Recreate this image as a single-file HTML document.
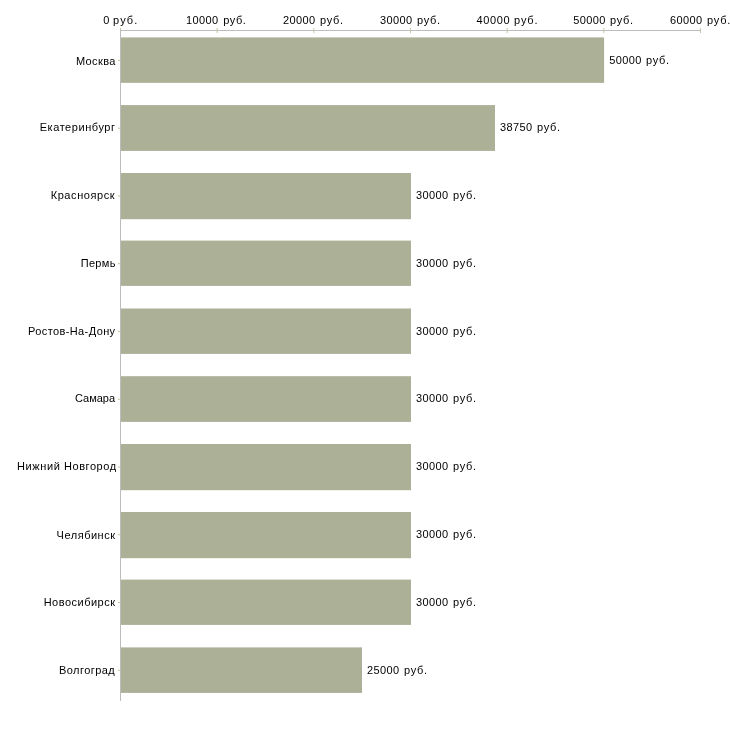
<!DOCTYPE html><html><head><meta charset="utf-8"><style>html,body{margin:0;padding:0;background:#fff;}svg{display:block;will-change:transform}text{font-family:"Liberation Sans",sans-serif;font-size:11px;fill:#000}</style></head><body>
<svg width="730" height="730" viewBox="0 0 730 730">
<rect x="120" y="37.40" width="484.10" height="45.45" fill="#abb097"/>
<rect x="120" y="105.10" width="375.00" height="45.80" fill="#abb097"/>
<rect x="120" y="173.00" width="291.00" height="46.20" fill="#abb097"/>
<rect x="120" y="240.60" width="291.00" height="45.30" fill="#abb097"/>
<rect x="120" y="308.50" width="291.00" height="45.40" fill="#abb097"/>
<rect x="120" y="376.20" width="291.00" height="45.70" fill="#abb097"/>
<rect x="120" y="444.00" width="291.00" height="46.20" fill="#abb097"/>
<rect x="120" y="512.00" width="291.00" height="46.20" fill="#abb097"/>
<rect x="120" y="579.60" width="291.00" height="45.30" fill="#abb097"/>
<rect x="120" y="647.40" width="242.00" height="45.50" fill="#abb097"/>
<path d="M120 30.5H701" stroke="#bcbcbc" stroke-width="1" fill="none"/>
<path d="M120.50 28V33M217.17 28V33M313.84 28V33M410.51 28V33M507.18 28V33M603.85 28V33M700.52 28V33M118 60.45H120M118 128.21H120M118 195.97H120M118 263.73H120M118 331.49H120M118 399.25H120M118 467.01H120M118 534.77H120M118 602.53H120M118 670.29H120" stroke="#c6c6a2" stroke-width="1" fill="none"/>
<path d="M120.5 30V701" stroke="#bcbcbc" stroke-width="1" fill="none"/>
<text x="103.15" y="24" textLength="8.11" lengthAdjust="spacing">0</text>
<text x="113.02" y="24" textLength="24.32" lengthAdjust="spacing">руб.</text>
<text x="185.95" y="24" textLength="32.29" lengthAdjust="spacing">10000</text>
<text x="223.25" y="24" textLength="22.68" lengthAdjust="spacing">руб.</text>
<text x="283.02" y="24" textLength="32.11" lengthAdjust="spacing">20000</text>
<text x="319.99" y="24" textLength="23.13" lengthAdjust="spacing">руб.</text>
<text x="380.10" y="24" textLength="32.14" lengthAdjust="spacing">30000</text>
<text x="416.99" y="24" textLength="23.13" lengthAdjust="spacing">руб.</text>
<text x="476.43" y="24" textLength="33.11" lengthAdjust="spacing">40000</text>
<text x="514.07" y="24" textLength="23.44" lengthAdjust="spacing">руб.</text>
<text x="573.13" y="24" textLength="32.13" lengthAdjust="spacing">50000</text>
<text x="609.99" y="24" textLength="23.13" lengthAdjust="spacing">руб.</text>
<text x="670.08" y="24" textLength="32.08" lengthAdjust="spacing">60000</text>
<text x="707.04" y="24" textLength="23.24" lengthAdjust="spacing">руб.</text>
<text x="75.89" y="65" textLength="39.47" lengthAdjust="spacing">Москва</text>
<text x="39.72" y="131" textLength="75.30" lengthAdjust="spacing">Екатеринбург</text>
<text x="50.65" y="199" textLength="64.00" lengthAdjust="spacing">Красноярск</text>
<text x="80.68" y="267" textLength="34.77" lengthAdjust="spacing">Пермь</text>
<text x="28.04" y="335" textLength="87.07" lengthAdjust="spacing">Ростов-На-Дону</text>
<text x="74.98" y="402" textLength="40.11" lengthAdjust="spacing">Самара</text>
<text x="17.00" y="470" textLength="42.83" lengthAdjust="spacing">Нижний</text>
<text x="63.96" y="470" textLength="52.21" lengthAdjust="spacing">Новгород</text>
<text x="56.58" y="539" textLength="58.46" lengthAdjust="spacing">Челябинск</text>
<text x="43.69" y="606" textLength="71.30" lengthAdjust="spacing">Новосибирск</text>
<text x="58.92" y="674" textLength="55.81" lengthAdjust="spacing">Волгоград</text>
<text x="609.13" y="64" textLength="32.13" lengthAdjust="spacing">50000</text>
<text x="645.99" y="64" textLength="23.13" lengthAdjust="spacing">руб.</text>
<text x="500.10" y="131" textLength="32.14" lengthAdjust="spacing">38750</text>
<text x="536.99" y="131" textLength="23.13" lengthAdjust="spacing">руб.</text>
<text x="416.10" y="199" textLength="32.14" lengthAdjust="spacing">30000</text>
<text x="452.99" y="199" textLength="23.13" lengthAdjust="spacing">руб.</text>
<text x="416.10" y="267" textLength="32.14" lengthAdjust="spacing">30000</text>
<text x="452.99" y="267" textLength="23.13" lengthAdjust="spacing">руб.</text>
<text x="416.10" y="335" textLength="32.14" lengthAdjust="spacing">30000</text>
<text x="452.99" y="335" textLength="23.13" lengthAdjust="spacing">руб.</text>
<text x="416.10" y="402" textLength="32.14" lengthAdjust="spacing">30000</text>
<text x="452.99" y="402" textLength="23.13" lengthAdjust="spacing">руб.</text>
<text x="416.10" y="470" textLength="32.14" lengthAdjust="spacing">30000</text>
<text x="452.99" y="470" textLength="23.13" lengthAdjust="spacing">руб.</text>
<text x="416.10" y="538" textLength="32.14" lengthAdjust="spacing">30000</text>
<text x="452.99" y="538" textLength="23.13" lengthAdjust="spacing">руб.</text>
<text x="416.10" y="606" textLength="32.14" lengthAdjust="spacing">30000</text>
<text x="452.99" y="606" textLength="23.13" lengthAdjust="spacing">руб.</text>
<text x="367.02" y="674" textLength="32.11" lengthAdjust="spacing">25000</text>
<text x="403.99" y="674" textLength="23.13" lengthAdjust="spacing">руб.</text>
</svg></body></html>
